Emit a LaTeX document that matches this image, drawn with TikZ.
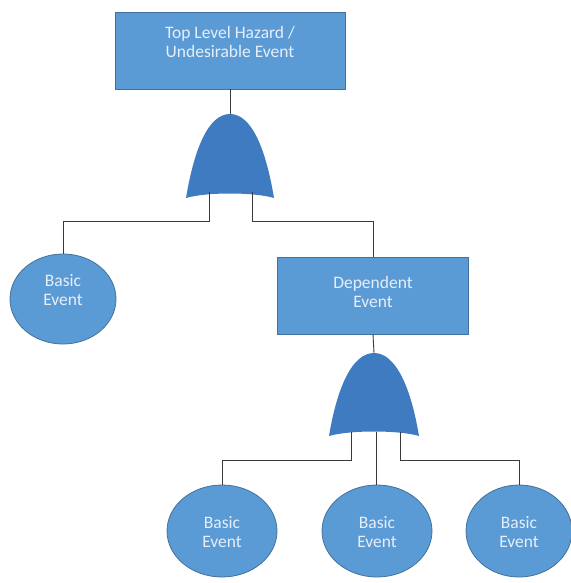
\documentclass[tikz,border=0pt]{standalone}
\usepackage{fontspec}
\setmainfont{Carlito}
\definecolor{boxfill}{HTML}{5B9BD5}
\definecolor{boxedge}{HTML}{41719C}
\definecolor{gatefill}{HTML}{3F7BC0}
\definecolor{labeltext}{HTML}{E6EEF9}
\definecolor{wire}{HTML}{3A3A3A}
\usetikzlibrary{shapes.geometric}
\tikzset{
  eventbox/.style={draw=boxedge, fill=boxfill, line width=0.8pt},
  basicevent/.style={ellipse, draw=boxedge, fill=boxfill, line width=0.8pt},
  caption/.style={text=labeltext, align=center, font=\fontsize{17.5}{19}\selectfont, inner sep=0pt},
  wireline/.style={draw=wire, line width=0.9pt},
  orgate/.style={fill=gatefill},
}
% OR gate: apex at #1, half width #2, height #3, name #4
\newcommand{\orgateshape}[4]{%
  \coordinate (#4-apex) at (#1);
  \path[orgate] (#1) ++(-#2,#3) coordinate (#4-bl)
    .. controls +(8,-48) and +(-22,0) .. (#4-apex)
    .. controls +(22,0) and +(-8,-48) .. ++(#2,#3) coordinate (#4-br)
    .. controls +(-20,-6) and +(20,-6) .. (#4-bl) -- cycle;
}
\begin{document}
\begin{tikzpicture}[x=1pt,y=-1pt]
\useasboundingbox (0,0) rectangle (570,583);
\fill[white] (0,0) rectangle (570,583);

% top event
\node[eventbox, minimum width=230, minimum height=77] (top) at (230,50.5) {};
\node[caption] (toptext) at (230,42) {Top Level Hazard /\\Undesirable Event};

% first OR gate
\orgateshape{230,114}{44}{84}{g1}
\coordinate (g1legL) at (209,192);
\coordinate (g1legR) at (252,192);
\coordinate (g1jL) at (209,221);
\coordinate (g1jR) at (252,221);

% left basic event
\node[basicevent, minimum width=106, minimum height=90] (b1) at (63,299) {};
\node[caption] (b1text) at (63,290) {Basic\\Event};

% dependent event
\node[eventbox, minimum width=191, minimum height=77] (dep) at (373,295.5) {};
\node[caption] (deptext) at (373,292) {Dependent\\Event};

% second OR gate
\orgateshape{374,353}{45}{83}{g2}
\coordinate (g2legL) at (351,432);
\coordinate (g2legM) at (376,432);
\coordinate (g2legR) at (400,432);
\coordinate (g2jL) at (351,460);
\coordinate (g2jR) at (400,460);

% lower basic events
\node[basicevent, minimum width=110, minimum height=92] (b2) at (222,531) {};
\node[caption] (b2text) at (222,532) {Basic\\Event};
\node[basicevent, minimum width=110, minimum height=92] (b3) at (377,531) {};
\node[caption] (b3text) at (377,532) {Basic\\Event};
\node[basicevent, minimum width=106, minimum height=92] (b4) at (519,531) {};
\node[caption] (b4text) at (519,532) {Basic\\Event};

% connectors
\draw[wireline] (top.south) -- (g1-apex);
\draw[wireline] (g1legL) -- (g1jL) -| (b1.north);
\draw[wireline] (g1legR) -- (g1jR) -| (dep.north);
\draw[wireline] (dep.south) -- (g2-apex);
\draw[wireline] (g2legL) -- (g2jL) -| (b2.north);
\draw[wireline] (g2legM) -- (b3.north -| g2legM);
\draw[wireline] (g2legR) -- (g2jR) -| (b4.north);
\end{tikzpicture}
\end{document}
